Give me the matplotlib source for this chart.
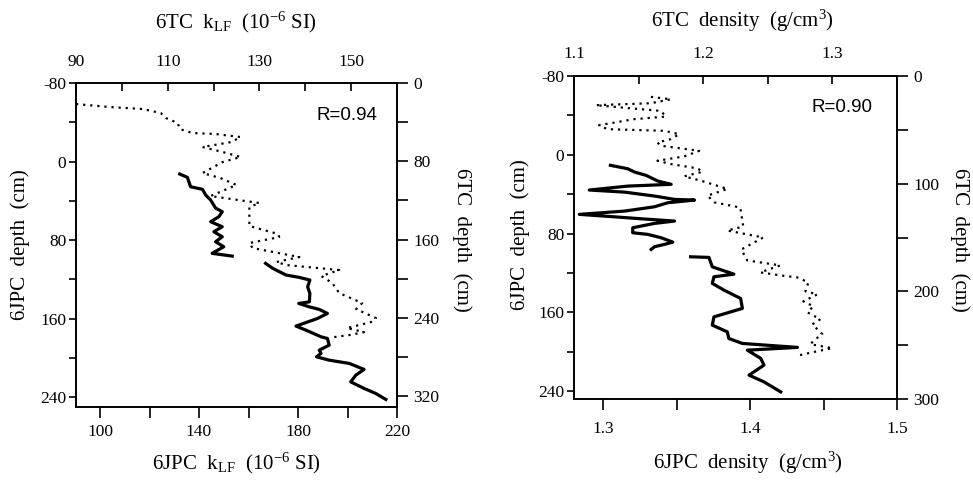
import numpy as np
import matplotlib
matplotlib.use("Agg")
import matplotlib.pyplot as plt
from matplotlib.ticker import MultipleLocator, FixedLocator, FormatStrFormatter

plt.rcParams['font.family'] = ['Liberation Serif', 'DejaVu Serif']
plt.rcParams['mathtext.fontset'] = 'custom'
plt.rcParams['mathtext.rm'] = 'Liberation Serif'
plt.rcParams['mathtext.it'] = 'Liberation Serif:italic'
plt.rcParams['axes.unicode_minus'] = False

# ---- panel a: magnetic susceptibility ----
# 6JPC (bottom axis / left depth)
jpc_k_depth = [12.7, 16.1, 25.7, 28.3, 34.1, 39.2, 47.4, 51.1, 56.2, 61.3, 66.4, 71.5,
               76.6, 81.7, 86.8, 93.5, 96.3]
jpc_k = [132.2, 135.3, 136.6, 141.4, 142.7, 144.7, 146.7, 149.4, 148.0, 144.7, 149.4, 146.0,
         149.4, 146.7, 150.0, 145.3, 153.4]
jpc_k_depth2 = [103.7, 108.8, 115.6, 118.0, 120.7, 127.6, 134.3, 142.9, 144.5, 148.0, 150.6,
                154.7, 159.8, 167.6, 171.7, 178.5, 180.2, 187.0, 192.1, 195.4, 198.9, 202.3,
                205.6, 211.7, 217.5, 224.4, 231.1, 236.2, 242.3]
jpc_k2 = [166.9, 169.8, 175.2, 180.5, 184.8, 183.9, 184.8, 184.6, 180.3, 184.6, 188.6,
          191.9, 187.9, 179.2, 183.2, 189.3, 191.9, 192.6, 188.6, 189.3, 187.5, 192.6,
          200.7, 206.7, 203.4, 201.3, 206.7, 211.4, 215.5]
# 6TC (top axis / right depth)
tc_k_depth = [21.5, 24.5, 26.6, 30.7, 35.8, 40.9, 47.0, 51.1, 52.1, 55.2, 60.3, 65.4, 70.5,
              75.6, 80.7, 92.0, 97.1, 104.2, 115.5, 122.6, 126.7, 146.1, 154.3, 157.4, 163.5,
              168.6, 177.8, 182.9, 186.0, 191.1, 197.2, 204.4, 214.6, 224.8, 231.0, 240.2,
              244.3, 250.4, 254.5, 257.5, 259.6]
tc_k = [90.0, 97.2, 104.6, 108.5, 109.6, 112.2, 112.6, 115.4, 120.4, 125.9, 123.9, 117.6, 122.0,
        125.9, 122.0, 117.6, 121.5, 125.0, 119.3, 130.0, 127.8, 127.8, 134.1, 134.3, 127.8,
        128.5, 138.7, 133.7, 135.9, 147.4, 143.5, 145.9, 147.4, 152.4, 151.1, 155.4,
        154.3, 149.1, 152.8, 149.6, 146.3]

# ---- panel b: density ----
jpc_d_depth = [10.7, 14.2, 17.5, 20.9, 26.7, 30.0, 31.8, 35.8, 37.9, 41.9, 45.3, 46.0, 48.7,
               52.8, 57.2, 60.5, 63.0, 65.0, 67.3, 69.7, 74.1, 79.2, 80.8, 84.3, 88.7, 91.0,
               93.4, 96.1]
jpc_d = [1.3048, 1.3166, 1.3212, 1.3291, 1.3371, 1.3462, 1.3166, 1.2904, 1.3143, 1.3348,
         1.3485, 1.3621, 1.3439, 1.3348, 1.3143, 1.2836, 1.3075, 1.3257, 1.3485, 1.3348,
         1.3200, 1.3200, 1.3302, 1.3394, 1.3473, 1.3416, 1.3348, 1.3326]
jpc_d_depth2 = [103.6, 104.2, 113.8, 121.2, 123.9, 130.6, 137.4, 145.9, 156.0, 164.6, 173.0,
                179.8, 186.6, 191.6, 195.6, 198.4, 206.8, 213.6, 223.8, 230.6, 240.8]
jpc_d2 = [1.3594, 1.3719, 1.3742, 1.3889, 1.3753, 1.3742, 1.3821, 1.3935, 1.3947, 1.3753,
          1.3742, 1.3844, 1.3855, 1.3947, 1.4322, 1.3981, 1.4072, 1.4094, 1.3992, 1.4094,
          1.4208]
tc_d_depth = [19.4, 21.6, 25.3, 27.1, 30.3, 32.4, 37.7, 40.1, 45.7, 49.4, 50.9, 54.0, 58.6,
              61.8, 64.8, 66.4, 69.5, 74.7, 78.7, 81.8, 85.8, 88.9, 93.2, 97.2, 104.9, 111.1,
              117.3, 122.2, 139.8, 143.5, 150.0, 161.1, 171.3, 175.9, 182.4, 185.2, 187.1,
              191.7, 200.0, 202.8, 209.3, 213.9, 219.5, 225.9, 230.6, 239.8, 244.5, 249.1,
              252.8, 255.6, 260.2]
tc_d = [1.1595, 1.1750, 1.1595, 1.1168, 1.1465, 1.1672, 1.1711, 1.1465, 1.1194, 1.1258,
        1.1698, 1.1814, 1.1750, 1.1646, 1.1672, 1.1775, 1.1969, 1.1853, 1.1646, 1.1750,
        1.1956, 1.1995, 1.1853, 1.1982, 1.2188, 1.2033, 1.2085, 1.2287, 1.2310, 1.2186,
        1.2465, 1.2295, 1.2341, 1.2597, 1.2442, 1.2597, 1.2729, 1.2814, 1.2791, 1.2884,
        1.2775, 1.2853, 1.2806, 1.2907, 1.2845, 1.2922, 1.2868, 1.2829, 1.3000, 1.2884,
        1.2713]

# tick values
a_bottom_ticks = [100, 140, 180, 220]
a_bottom_minor = [120, 160, 200]
a_top_ticks = [90, 110, 130, 150]
a_top_minor = [100, 120, 140]
b_bottom_ticks = [1.3, 1.4, 1.5]
b_bottom_minor = [1.35, 1.45]
b_top_ticks = [1.1, 1.2, 1.3]
b_top_minor = [1.15, 1.25]

W, H = 973, 483
fig = plt.figure(figsize=(W / 100, H / 100), dpi=100)


def box(x0, y0, x1, y1):
    # pixel box (top-left origin) -> figure fraction
    return [x0 / W, 1 - y1 / H, (x1 - x0) / W, (y1 - y0) / H]


def style(ax):
    for s in ax.spines.values():
        s.set_linewidth(1.4)
    ax.tick_params(which='both', labelsize=12.5, width=1.2, colors='k')


def panel(pos, xb, xt, yl, yr, xb_maj, xb_min, xt_maj, xt_min, yr_maj, yr_min,
          fmt_b, fmt_t, pad_b, pad_t):
    a1 = fig.add_axes(pos)
    a1.set_xlim(*xb)
    a1.set_ylim(*yl)
    a1.xaxis.set_major_locator(FixedLocator(xb_maj))
    a1.xaxis.set_minor_locator(FixedLocator(xb_min))
    a1.xaxis.set_major_formatter(FormatStrFormatter(fmt_b))
    a1.yaxis.set_major_locator(MultipleLocator(80))
    a1.yaxis.set_minor_locator(MultipleLocator(40))
    a1.tick_params(axis='x', which='major', direction='out', length=8, pad=pad_b)
    a1.tick_params(axis='x', which='minor', direction='out', length=8)
    a1.tick_params(axis='y', which='both', direction='out', length=5, pad=2)
    style(a1)

    a2 = fig.add_axes(pos, frameon=False)
    a2.set_xlim(*xt)
    a2.set_ylim(*yr)
    a2.xaxis.tick_top()
    a2.yaxis.tick_right()
    a2.xaxis.set_major_locator(FixedLocator(xt_maj))
    a2.xaxis.set_minor_locator(FixedLocator(xt_min))
    a2.xaxis.set_major_formatter(FormatStrFormatter(fmt_t))
    a2.yaxis.set_major_locator(MultipleLocator(yr_maj))
    a2.yaxis.set_minor_locator(MultipleLocator(yr_min))
    a2.tick_params(axis='x', which='both', direction='in', length=6, pad=pad_t)
    a2.tick_params(axis='y', which='both', direction='out', length=8, pad=4)
    style(a2)
    return a1, a2


# panel a
a1, a2 = panel(box(76, 83, 397, 407), (90.3, 220), (90, 160), (250, -80), (331, 0),
               a_bottom_ticks, a_bottom_minor, a_top_ticks, a_top_minor, 80, 40,
               '%d', '%d', 4, 9)
a1.plot(jpc_k, jpc_k_depth, color='k', lw=2.3, solid_joinstyle='round')
a1.plot(jpc_k2, jpc_k_depth2, color='k', lw=2.3, solid_joinstyle='round')
a2.plot(tc_k, tc_k_depth, color='k', lw=1.6, linestyle=(0, (1, 2.2)))
a1.text(0.94, 0.90, 'R=0.94', transform=a1.transAxes, ha='right', va='center',
        fontsize=13.5, family='Liberation Sans')

# panel b
b1, b2 = panel(box(574, 76, 897, 399), (1.28, 1.5), (1.1, 1.35), (248, -80), (300, 0),
               b_bottom_ticks, b_bottom_minor, b_top_ticks, b_top_minor, 100, 50,
               '%.1f', '%.1f', 8, 10)
b1.plot(jpc_d, jpc_d_depth, color='k', lw=2.3, solid_joinstyle='round')
b1.plot(jpc_d2, jpc_d_depth2, color='k', lw=2.3, solid_joinstyle='round')
b2.plot(tc_d, tc_d_depth, color='k', lw=1.6, linestyle=(0, (1, 2.2)))
b1.text(0.925, 0.904, 'R=0.90', transform=b1.transAxes, ha='right', va='center',
        fontsize=13.5, family='Liberation Sans')

# axis titles
fs = 15
fig.text(236 / W, 1 - 22 / H, r'6TC  k$_{\mathrm{LF}}$  (10$^{\mathrm{-6}}$ SI)', ha='center', va='center', fontsize=fs)
fig.text(236 / W, 1 - 463 / H, r'6JPC  k$_{\mathrm{LF}}$  (10$^{\mathrm{-6}}$ SI)', ha='center', va='center', fontsize=fs)
fig.text(20 / W, 1 - 245 / H, '6JPC  depth  (cm)', rotation=90, ha='center', va='center', fontsize=fs)
fig.text(462 / W, 1 - 240 / H, '6TC  depth  (cm)', rotation=-90, ha='center', va='center', fontsize=fs)

fig.text(742 / W, 1 - 21 / H, r'6TC  density  (g/cm$^{\mathrm{3}}$)', ha='center', va='center', fontsize=fs)
fig.text(748 / W, 1 - 463 / H, r'6JPC  density  (g/cm$^{\mathrm{3}}$)', ha='center', va='center', fontsize=fs)
fig.text(520 / W, 1 - 235 / H, '6JPC  depth  (cm)', rotation=90, ha='center', va='center', fontsize=fs)
fig.text(960 / W, 1 - 240 / H, '6TC  depth  (cm)', rotation=-90, ha='center', va='center', fontsize=fs)

fig.savefig('out.png', dpi=100)
